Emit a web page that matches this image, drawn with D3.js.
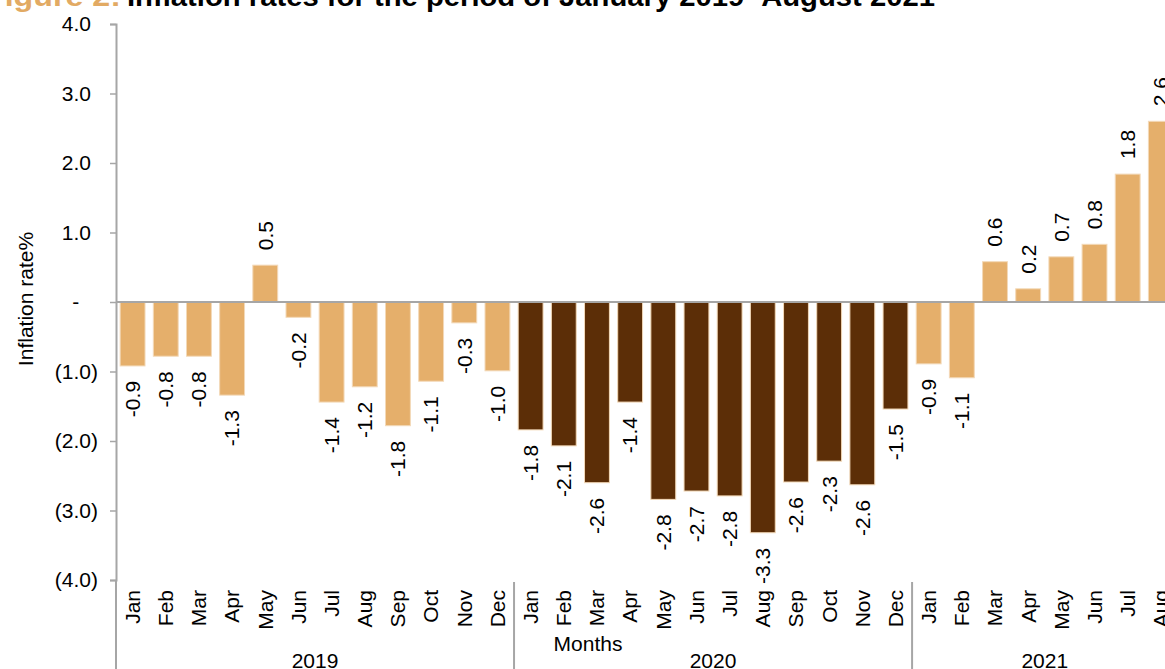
<!DOCTYPE html>
<html>
<head>
<meta charset="utf-8">
<script src="https://cdn.jsdelivr.net/npm/d3@7"></script>
<style>
  html, body { margin: 0; padding: 0; background: #fff; overflow: hidden; }
  svg { display: block; font-family: "Liberation Sans", Arial, sans-serif; }
</style>
</head>
<body>
<svg id="chart" width="1165" height="669"></svg>
<script>
// ---- data ----
const months = ["Jan","Feb","Mar","Apr","May","Jun","Jul","Aug","Sep","Oct","Nov","Dec",
                "Jan","Feb","Mar","Apr","May","Jun","Jul","Aug","Sep","Oct","Nov","Dec",
                "Jan","Feb","Mar","Apr","May","Jun","Jul","Aug"];
const years = ["2019","2019","2019","2019","2019","2019","2019","2019","2019","2019","2019","2019",
               "2020","2020","2020","2020","2020","2020","2020","2020","2020","2020","2020","2020",
               "2021","2021","2021","2021","2021","2021","2021","2021"];
const values = [-0.92,-0.78,-0.78,-1.34,0.53,-0.22,-1.44,-1.22,-1.78,-1.14,-0.30,-0.99,
                -1.84,-2.07,-2.60,-1.44,-2.84,-2.72,-2.79,-3.32,-2.59,-2.29,-2.63,-1.54,
                -0.89,-1.09,0.58,0.19,0.65,0.83,1.84,2.60];
const yearGroups = ["2019","2020","2021"];
const yTicks = [-4,-3,-2,-1,0,1,2,3,4];
const yTickLabels = ["(4.0)","(3.0)","(2.0)","(1.0)","-","1.0","2.0","3.0","4.0"];
const yearColors = {"2019":"#E5AF6B","2020":"#5C2E07","2021":"#E5AF6B"};

// ---- layout ----
const svg = d3.select("#chart");
const x0 = 116, step = 33.17;
const idx = d3.range(values.length);
const x = d3.scaleBand().domain(idx).range([x0, x0 + step * values.length])
  .paddingInner(0.25).paddingOuter(0.125);
const y = d3.scaleLinear().domain([-4, 4]).range([580, 24]);
const axisColor = "#A6A6A6";
const fs = 21;

// Title (cut at top, as in the reference)
svg.append("text").attr("x", 121).attr("y", 6).attr("text-anchor", "end")
  .attr("font-size", 28).attr("font-weight", "bold").attr("fill", "#E2AA63")
  .attr("textLength", 136).attr("lengthAdjust", "spacingAndGlyphs")
  .text("Figure 2:");
svg.append("text").attr("x", 127).attr("y", 6)
  .attr("font-size", 28).attr("font-weight", "bold").attr("fill", "#000")
  .attr("textLength", 808).attr("lengthAdjust", "spacingAndGlyphs")
  .text("Inflation rates for the period of January 2019- August 2021");

// Bars
svg.append("g").selectAll("rect").data(idx).join("rect")
  .attr("x", i => x(i))
  .attr("width", x.bandwidth())
  .attr("y", i => y(Math.max(0, values[i])))
  .attr("height", i => Math.abs(y(values[i]) - y(0)))
  .attr("fill", i => yearColors[years[i]])
  .attr("stroke", "#F3D9B8").attr("stroke-width", 1);

// Zero line
svg.append("line").attr("x1", x0).attr("x2", 1165).attr("y1", y(0)).attr("y2", y(0))
  .attr("stroke", axisColor).attr("stroke-width", 2);

// Y axis
const yAxis = d3.axisLeft(y).tickValues(yTicks).tickSize(6)
  .tickFormat((d, i) => yTickLabels[i]);
const gy = svg.append("g").attr("transform", `translate(${x0},0)`).call(yAxis);
gy.select(".domain").attr("stroke", axisColor).attr("stroke-width", 2);
gy.selectAll(".tick line").attr("stroke", axisColor).attr("stroke-width", 1.5);
gy.selectAll(".tick text").attr("font-size", fs).attr("fill", "#000")
  .attr("font-family", "Liberation Sans, Arial, sans-serif")
  .attr("x", -18)
  .attr("dx", d => d > 0 ? "-0.333em" : d === 0 ? "-0.889em" : "0");
// axis continues through the category area
svg.append("line").attr("x1", x0).attr("x2", x0).attr("y1", 580).attr("y2", 669)
  .attr("stroke", axisColor).attr("stroke-width", 2);

// Year separators
[12, 24].forEach(k => {
  const xs = x0 + step * k;
  svg.append("line").attr("x1", xs).attr("x2", xs).attr("y1", 582).attr("y2", 669)
    .attr("stroke", axisColor).attr("stroke-width", 2);
});

// Data labels (plain hyphen-minus as in the reference)
const fmt = v => d3.format(".1f")(v).replace("\u2212", "-");
svg.append("g").selectAll("text").data(idx).join("text")
  .attr("transform", i => {
    const cx = x(i) + x.bandwidth() / 2;
    const yy = values[i] >= 0 ? y(values[i]) - 15 : y(values[i]) + 15;
    return `translate(${cx},${yy}) rotate(-90)`;
  })
  .attr("text-anchor", i => values[i] >= 0 ? "start" : "end")
  .attr("dy", "0.35em")
  .attr("font-size", fs).attr("fill", "#000")
  .text(i => fmt(values[i]));

// Month labels
svg.append("g").selectAll("text").data(idx).join("text")
  .attr("transform", i => `translate(${x(i) + x.bandwidth() / 2},590) rotate(-90)`)
  .attr("text-anchor", "end").attr("dy", "0.35em")
  .attr("font-size", fs).attr("fill", "#000")
  .text(i => months[i]);

// Year group labels
yearGroups.forEach(g => {
  const members = idx.filter(i => years[i] === g);
  const a = x0 + step * d3.min(members), b = x0 + step * (d3.max(members) + 1);
  svg.append("text").attr("x", (a + b) / 2).attr("y", 668).attr("text-anchor", "middle")
    .attr("font-size", fs).attr("fill", "#000").text(g);
});

// Axis titles
svg.append("text").attr("x", 588).attr("y", 651).attr("text-anchor", "middle")
  .attr("font-size", fs).attr("fill", "#000").text("Months");
svg.append("text").attr("transform", "translate(33,299) rotate(-90)")
  .attr("text-anchor", "middle").attr("font-size", fs).attr("fill", "#000")
  .text("Inflation rate%");
</script>
</body>
</html>
